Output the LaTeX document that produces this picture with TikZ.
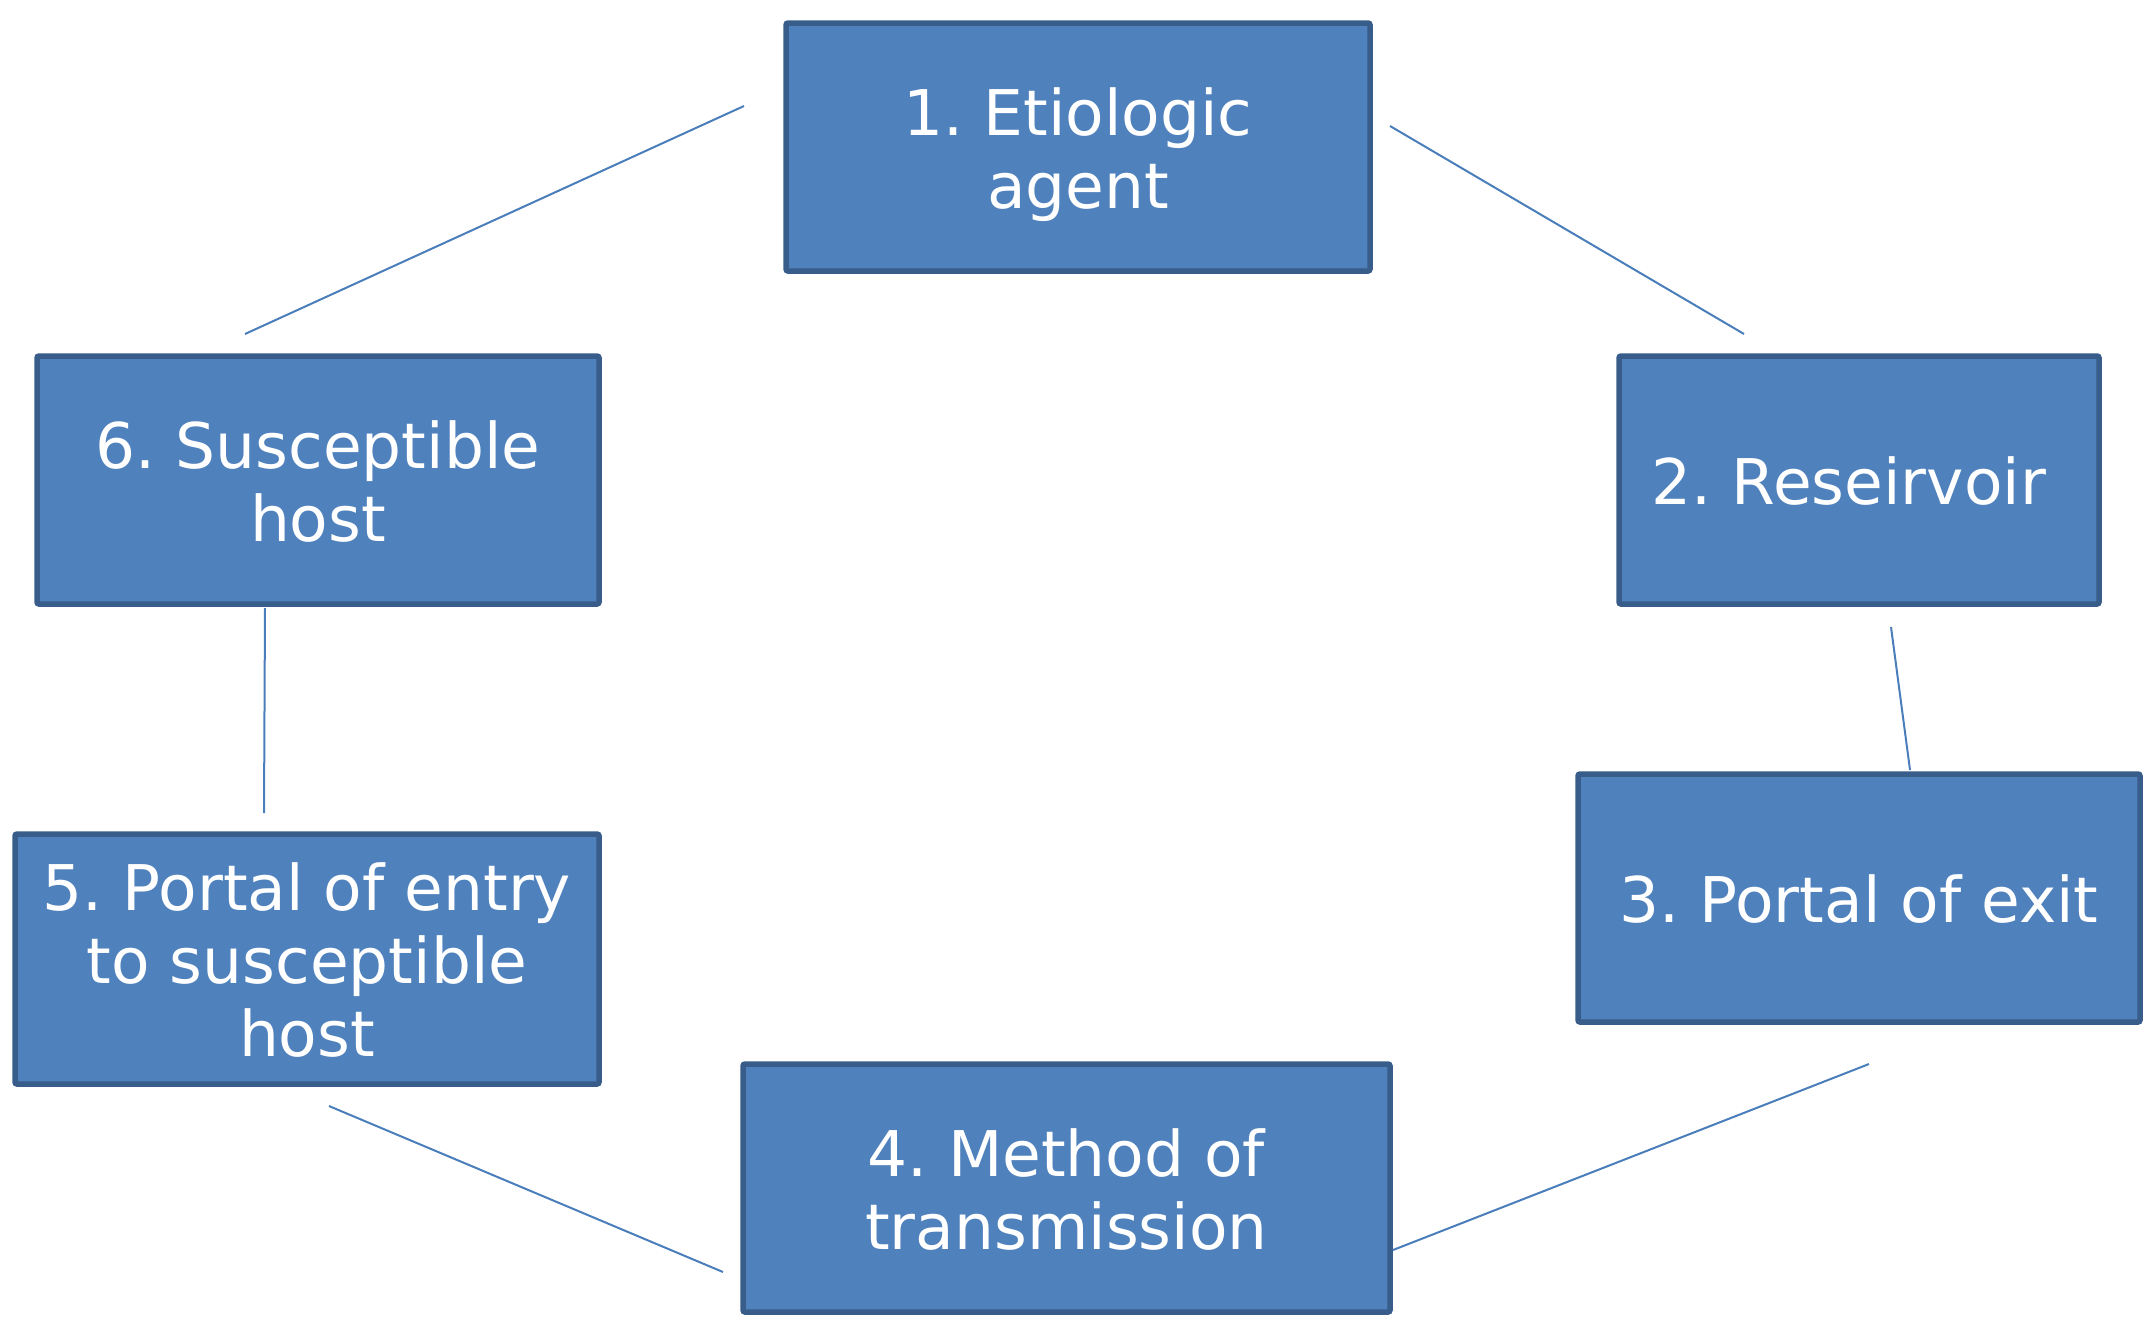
\documentclass[tikz,border=0pt]{standalone}
\usepackage{fontspec}
\setmainfont{DejaVu Sans}
\definecolor{boxfill}{HTML}{4F81BD}
\definecolor{boxedge}{HTML}{385D8A}
\definecolor{linkcol}{HTML}{4A7EBB}
\newcommand\lnstrut{\rule[-8.5pt]{0pt}{41.5pt}}
\lineskiplimit=-100pt
\frenchspacing
\begin{document}
\begin{tikzpicture}[x=0.5pt,y=-0.5pt,
  stagebox/.style={draw=boxedge,fill=boxfill,line width=2.75pt,rounded corners=1pt,
    text=white,align=center,inner sep=0pt,minimum height=124pt,
    font=\fontsize{31.5}{36.5}\selectfont},
  link/.style={draw=linkcol,line width=1pt}]
\useasboundingbox (0,0) rectangle (2156,1328);
\node[stagebox,minimum width=292pt] (b1) at (1078,147) {\lnstrut 1. Etiologic\\\lnstrut agent};
\node[stagebox,minimum width=240pt] (b2) at (1859,480) {\lnstrut 2. Reseirvoir\hspace*{0.32em}};
\node[stagebox,minimum width=281pt] (b3) at (1859,898) {\lnstrut 3. Portal of exit};
\node[stagebox,minimum width=323.5pt] (b4) at (1066.5,1188) {\lnstrut 4. Method of\\\lnstrut transmission};
\node[stagebox,minimum width=292pt,minimum height=125pt] (b5) at (307,959) {\lnstrut 5. Portal of entry\\\lnstrut to susceptible\\\lnstrut host};
\node[stagebox,minimum width=281pt] (b6) at (318,480) {\lnstrut 6. Susceptible\\\lnstrut host};
\coordinate (a1) at (744,106);  \coordinate (a2) at (245,334);
\coordinate (c1) at (1390,126); \coordinate (c2) at (1744,334);
\coordinate (d1) at (1891,627); \coordinate (d2) at (1910,770);
\coordinate (e1) at (1869,1064);\coordinate (e2) at (1393,1250);
\coordinate (f1) at (329,1106); \coordinate (f2) at (723,1272);
\coordinate (g1) at (265,608);  \coordinate (g2) at (264,813);
\draw[link] (a1) -- (a2);
\draw[link] (c1) -- (c2);
\draw[link] (d1) -- (d2);
\draw[link] (e1) -- (e2);
\draw[link] (f1) -- (f2);
\draw[link] (g1) -- (g2);
\end{tikzpicture}
\end{document}
